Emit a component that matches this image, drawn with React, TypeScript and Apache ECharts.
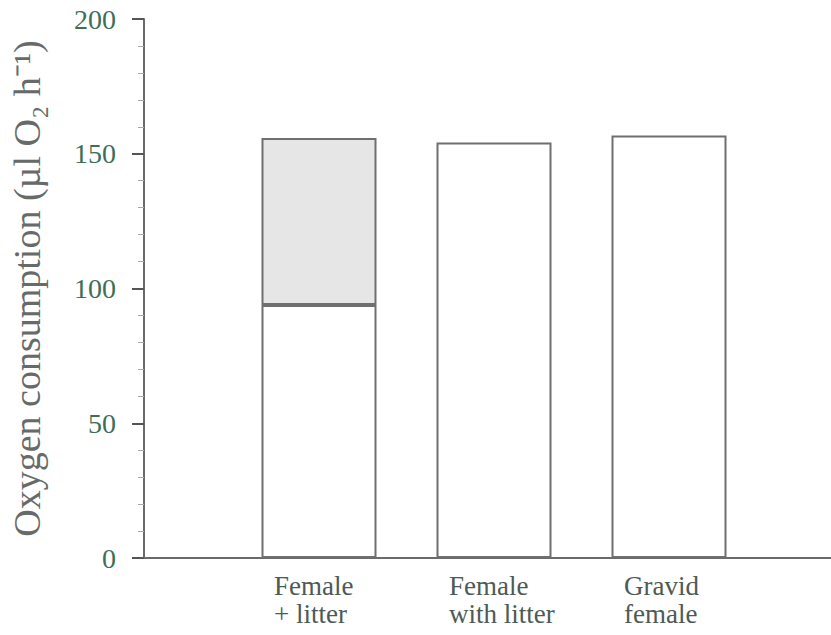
import React, { useEffect, useRef } from "react";
import * as echarts from "echarts";

const categories = ["", "Female\n+ litter", "Female\nwith litter", "Gravid\nfemale", ""];
const femaleValues = ["-", 93.9, 154.2, 156.8, "-"];
const litterValues = ["-", 61.9, "-", "-", "-"];
const yTicks = { min: 0, max: 200, interval: 50 };

const FONT = "Liberation Serif";

export default function App() {
  const ref = useRef<HTMLDivElement>(null);
  useEffect(() => {
    if (!ref.current) return;
    const chart = echarts.init(ref.current, null, { renderer: "svg" });
    chart.setOption({
      animation: false,
      backgroundColor: "#ffffff",
      textStyle: { fontFamily: FONT },
      grid: { left: 144, right: 0, top: 19, bottom: 77, outerBoundsMode: "none", containLabel: false },
      xAxis: {
        type: "category",
        data: categories,
        boundaryGap: false,
        axisLine: { lineStyle: { color: "#6a6a6a", width: 2 } },
        axisTick: { show: false },
        axisLabel: {
          margin: 14,
          interval: 0,
          fontFamily: FONT,
          fontSize: 27,
          formatter: (v: string) =>
            v === ""
              ? ""
              : v
                  .split("\n")
                  .map((s) => "{a|" + s + "}")
                  .join("\n"),
          rich: {
            a: {
              width: 90,
              align: "left",
              fontFamily: FONT,
              fontSize: 27,
              lineHeight: 28,
              color: "#4e5a55",
            },
          },
        },
        splitLine: { show: false },
      },
      yAxis: {
        type: "value",
        min: yTicks.min,
        max: yTicks.max,
        interval: yTicks.interval,
        name: "Oxygen consumption (µl O₂ h⁻¹)",
        nameLocation: "middle",
        nameGap: 98,
        nameTextStyle: { fontFamily: FONT, fontSize: 38, color: "#666a68" },
        axisLine: { show: true, lineStyle: { color: "#6a6a6a", width: 2 } },
        axisTick: { show: true, length: 12, lineStyle: { color: "#555", width: 2 } },
        minorTick: { show: true, splitNumber: 5, length: 6, lineStyle: { color: "#aaa", width: 1 } },
        axisLabel: { margin: 28, fontFamily: FONT, fontSize: 28, color: "#3f6e57" },
        splitLine: { show: false },
      },
      series: [
        {
          type: "bar",
          name: "female",
          stack: "total",
          data: femaleValues,
          barWidth: 115,
          itemStyle: { color: "#ffffff", borderColor: "#6f6f6f", borderWidth: 2 },
        },
        {
          type: "bar",
          name: "litter",
          stack: "total",
          data: litterValues,
          barWidth: 115,
          itemStyle: { color: "#e6e6e6", borderColor: "#6f6f6f", borderWidth: 2 },
        },
      ],
    });
    return () => chart.dispose();
  }, []);
  return (
    <div style={{ position: "absolute", left: 0, top: 0, width: 831, height: 635, overflow: "hidden", background: "#fff" }}>
      <div ref={ref} style={{ width: 844, height: 635 }} />
    </div>
  );
}
